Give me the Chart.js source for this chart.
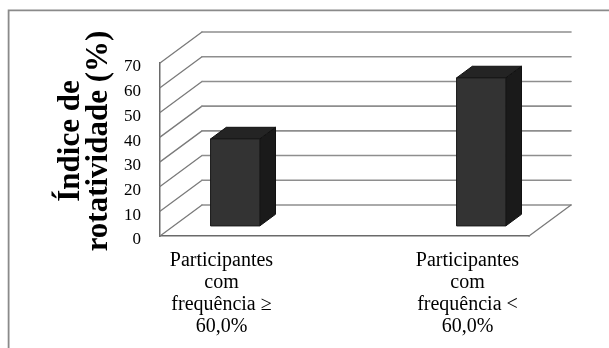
<!DOCTYPE html>
<html>
<head>
<meta charset="utf-8">
<script src="https://cdn.jsdelivr.net/npm/chart.js@4.4.1/dist/chart.umd.min.js"></script>
<style>
  html, body { margin: 0; padding: 0; background: #fff; }
  #wrap { width: 609px; height: 348px; position: relative; }
</style>
</head>
<body>
<div id="wrap"><canvas id="c" width="609" height="348"></canvas></div>
<script>
// Category labels (multi-line)
const categories = [
  ['Participantes', 'com', 'frequência ≥', '60,0%'],
  ['Participantes', 'com', 'frequência <', '60,0%']
];
// Turnover index per group (%)
const turnoverValues = [35.2, 59.9];
// Value axis ticks
const yTicks = [0, 10, 20, 30, 40, 50, 60, 70];
// Value axis title (two lines)
const yTitleLines = ['Índice de', 'rotatividade (%)'];

// Oblique projection used for the 3D box look
const DEPTH = { dx: 42, dy: -31 };
const BAR_FRONT = 0.325;   // depth fraction of the bar front face
const BAR_BACK = 0.70;     // depth fraction of the bar back face
const BAR_HALF = 0.10;     // half bar width, in category units

const SERIF = '"Liberation Serif", "Times New Roman", serif';

function poly(ctx, pts, fill, stroke) {
  ctx.beginPath();
  ctx.moveTo(pts[0][0], pts[0][1]);
  for (let i = 1; i < pts.length; i++) ctx.lineTo(pts[i][0], pts[i][1]);
  ctx.closePath();
  ctx.fillStyle = fill;
  ctx.fill();
  if (stroke) { ctx.strokeStyle = stroke; ctx.lineWidth = 1; ctx.stroke(); }
}

// Outer frame of the figure
const framePlugin = {
  id: 'frame',
  beforeDraw(chart) {
    const ctx = chart.ctx;
    ctx.save();
    ctx.strokeStyle = '#8a8a8a';
    ctx.lineWidth = 1.8;
    ctx.beginPath();
    ctx.moveTo(8.6, chart.height);
    ctx.lineTo(8.6, 10.4);
    ctx.lineTo(chart.width, 10.4);
    ctx.stroke();
    ctx.restore();
  }
};

// Back wall, side wall and floor
const wallsPlugin = {
  id: 'walls',
  beforeDatasetsDraw(chart) {
    const ctx = chart.ctx;
    const { left, right, bottom } = chart.chartArea;
    const ys = chart.scales.y;
    ctx.save();
    ctx.lineCap = 'round';
    ys.ticks.forEach(t => {
      const y = ys.getPixelForValue(t.value);
      ctx.strokeStyle = '#7a7a7a';
      ctx.lineWidth = 1.3;
      ctx.beginPath();
      ctx.moveTo(left, y);
      ctx.lineTo(left + DEPTH.dx, y + DEPTH.dy);
      ctx.stroke();
      ctx.strokeStyle = '#8e8e8e';
      ctx.lineWidth = 1.6;
      ctx.beginPath();
      ctx.moveTo(left + DEPTH.dx, y + DEPTH.dy);
      ctx.lineTo(right + DEPTH.dx, y + DEPTH.dy);
      ctx.stroke();
    });
    ctx.strokeStyle = '#7a7a7a';
    ctx.lineWidth = 1.3;
    ctx.beginPath();
    ctx.moveTo(right, bottom);
    ctx.lineTo(right + DEPTH.dx, bottom + DEPTH.dy);
    ctx.stroke();
    ctx.restore();
  }
};

// 3D bars built from the data through the chart scales
const bars3dPlugin = {
  id: 'bars3d',
  afterDatasetsDraw(chart) {
    const ctx = chart.ctx;
    const xs = chart.scales.x, ys = chart.scales.y;
    const fx = DEPTH.dx * BAR_FRONT, fy = DEPTH.dy * BAR_FRONT;
    const bx = DEPTH.dx * BAR_BACK, by = DEPTH.dy * BAR_BACK;
    ctx.save();
    turnoverValues.forEach((v, i) => {
      const x0 = xs.getPixelForValue(i - BAR_HALF);
      const x1 = xs.getPixelForValue(i + BAR_HALF);
      const yT = ys.getPixelForValue(v);
      const yB = ys.getPixelForValue(0);
      // side face
      poly(ctx, [[x1 + fx, yT + fy], [x1 + bx, yT + by], [x1 + bx, yB + by], [x1 + fx, yB + fy]], '#1a1a1a', '#111');
      // top face
      poly(ctx, [[x0 + fx, yT + fy], [x0 + bx, yT + by], [x1 + bx, yT + by], [x1 + fx, yT + fy]], '#242424', '#111');
      // front face
      poly(ctx, [[x0 + fx, yT + fy], [x1 + fx, yT + fy], [x1 + fx, yB + fy], [x0 + fx, yB + fy]], '#333333', '#1a1a1a');
    });
    ctx.restore();
  }
};

// Rotated two-line value axis title
const yTitlePlugin = {
  id: 'yTitle',
  afterDraw(chart) {
    const ctx = chart.ctx;
    const baselines = [79, 107];
    const cy = 141;
    ctx.save();
    ctx.fillStyle = '#000';
    ctx.font = 'bold 31px ' + SERIF;
    ctx.textAlign = 'center';
    ctx.textBaseline = 'alphabetic';
    yTitleLines.forEach((line, k) => {
      ctx.save();
      ctx.translate(baselines[k], cy);
      ctx.rotate(-Math.PI / 2);
      ctx.fillText(line, 0, 0);
      ctx.restore();
    });
    ctx.restore();
  }
};

new Chart(document.getElementById('c'), {
  type: 'bar',
  data: {
    datasets: [{
      data: turnoverValues.map((v, i) => ({ x: i, y: v })),
      backgroundColor: 'rgba(0,0,0,0)',
      borderWidth: 0
    }]
  },
  options: {
    responsive: false,
    animation: false,
    devicePixelRatio: 1,
    layout: { padding: { left: 0, top: 63, right: 80, bottom: 0 } },
    plugins: { legend: { display: false }, tooltip: { enabled: false }, title: { display: false } },
    scales: {
      x: {
        type: 'linear',
        offset: false,
        min: -0.25,
        max: 1.25,
        afterBuildTicks: s => { s.ticks = categories.map((_, i) => ({ value: i })); },
        afterFit: s => { s.height = 112; },
        grid: { display: false, drawTicks: false, offset: false },
        border: { display: true, color: '#6a6a6a', width: 1.5 },
        ticks: {
          autoSkip: false,
          maxRotation: 0,
          minRotation: 0,
          padding: 14,
          color: '#000',
          font: { family: SERIF, size: 20, lineHeight: 1.1 },
          callback: v => categories[v]
        }
      },
      y: {
        min: 0,
        max: 70,
        afterBuildTicks: s => { s.ticks = yTicks.map(v => ({ value: v })); },
        afterFit: s => { s.width = 160; },
        grid: { display: false, drawTicks: false },
        border: { display: true, color: '#6a6a6a', width: 1.5 },
        ticks: {
          padding: 19,
          labelOffset: 4,
          color: '#000',
          font: { family: SERIF, size: 17 }
        }
      }
    }
  },
  plugins: [framePlugin, wallsPlugin, bars3dPlugin, yTitlePlugin]
});
</script>
</body>
</html>
